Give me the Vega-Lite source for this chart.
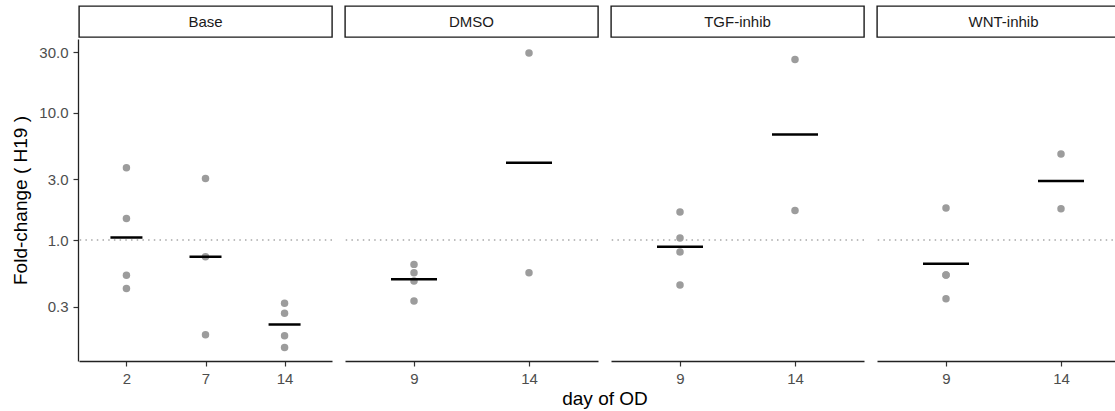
{
  "$schema": "https://vega.github.io/schema/vega-lite/v6.json",
  "padding": {"left": 11, "top": 5, "right": 0, "bottom": 0},
  "bounds": "flush",
  "spacing": 33,
  "background": "white",
  "datasets": {
    "strips": [
      {"panel": "Base"}, {"panel": "DMSO"}, {"panel": "TGF-inhib"}, {"panel": "WNT-inhib"}
    ],
    "obs": [
      {"panel": "Base", "day": 2, "kind": "pt", "value": 3.70},
      {"panel": "Base", "day": 2, "kind": "pt", "value": 1.48},
      {"panel": "Base", "day": 2, "kind": "pt", "value": 0.53},
      {"panel": "Base", "day": 2, "kind": "pt", "value": 0.417},
      {"panel": "Base", "day": 2, "kind": "mean", "value": 1.05},
      {"panel": "Base", "day": 7, "kind": "pt", "value": 3.05},
      {"panel": "Base", "day": 7, "kind": "pt", "value": 0.74},
      {"panel": "Base", "day": 7, "kind": "pt", "value": 0.18},
      {"panel": "Base", "day": 7, "kind": "mean", "value": 0.74},
      {"panel": "Base", "day": 14, "kind": "pt", "value": 0.318},
      {"panel": "Base", "day": 14, "kind": "pt", "value": 0.266},
      {"panel": "Base", "day": 14, "kind": "pt", "value": 0.177},
      {"panel": "Base", "day": 14, "kind": "pt", "value": 0.143},
      {"panel": "Base", "day": 14, "kind": "mean", "value": 0.217},
      {"panel": "DMSO", "day": 9, "kind": "pt", "value": 0.644},
      {"panel": "DMSO", "day": 9, "kind": "pt", "value": 0.554},
      {"panel": "DMSO", "day": 9, "kind": "pt", "value": 0.477},
      {"panel": "DMSO", "day": 9, "kind": "pt", "value": 0.332},
      {"panel": "DMSO", "day": 9, "kind": "mean", "value": 0.491},
      {"panel": "DMSO", "day": 14, "kind": "pt", "value": 29.6},
      {"panel": "DMSO", "day": 14, "kind": "pt", "value": 0.554},
      {"panel": "DMSO", "day": 14, "kind": "mean", "value": 4.05},
      {"panel": "TGF-inhib", "day": 9, "kind": "pt", "value": 1.66},
      {"panel": "TGF-inhib", "day": 9, "kind": "pt", "value": 1.04},
      {"panel": "TGF-inhib", "day": 9, "kind": "pt", "value": 0.805},
      {"panel": "TGF-inhib", "day": 9, "kind": "pt", "value": 0.443},
      {"panel": "TGF-inhib", "day": 9, "kind": "mean", "value": 0.885},
      {"panel": "TGF-inhib", "day": 14, "kind": "pt", "value": 26.3},
      {"panel": "TGF-inhib", "day": 14, "kind": "pt", "value": 1.71},
      {"panel": "TGF-inhib", "day": 14, "kind": "mean", "value": 6.77},
      {"panel": "WNT-inhib", "day": 9, "kind": "pt", "value": 1.79},
      {"panel": "WNT-inhib", "day": 9, "kind": "pt", "value": 0.531},
      {"panel": "WNT-inhib", "day": 9, "kind": "pt", "value": 0.531},
      {"panel": "WNT-inhib", "day": 9, "kind": "pt", "value": 0.346},
      {"panel": "WNT-inhib", "day": 9, "kind": "mean", "value": 0.652},
      {"panel": "WNT-inhib", "day": 14, "kind": "pt", "value": 4.76},
      {"panel": "WNT-inhib", "day": 14, "kind": "pt", "value": 1.76},
      {"panel": "WNT-inhib", "day": 14, "kind": "mean", "value": 2.91}
    ]
  },
  "vconcat": [
    {
      "data": {"name": "strips"},
      "facet": {"column": {"field": "panel", "type": "nominal", "header": null}},
      "spacing": 11,
      "spec": {
        "width": 253,
        "height": 31,
        "view": {"stroke": "#1a1a1a", "strokeWidth": 1.4, "fill": "white"},
        "mark": {"type": "text", "fontSize": 15, "color": "#1a1a1a", "font": "Liberation Sans"},
        "encoding": {"text": {"field": "panel", "type": "nominal"}}
      }
    },
    {
      "data": {"name": "obs"},
      "facet": {
        "column": {
          "field": "panel",
          "type": "nominal",
          "header": {
            "labels": false,
            "title": "day of OD",
            "titleOrient": "bottom",
            "titleFontSize": 19,
            "titleFontWeight": "normal",
            "titleColor": "black",
            "titleFont": "Liberation Sans",
            "titlePadding": -6
          }
        }
      },
      "spacing": 11,
      "resolve": {"scale": {"x": "independent"}},
      "spec": {
        "width": 253,
        "height": 322,
        "layer": [
          {
            "transform": [{"filter": "datum.kind === 'mean' && (datum.day === 2 || datum.day === 9)"}],
            "mark": {"type": "rule", "color": "#a8a8a8", "strokeWidth": 1.4, "strokeDash": [1.5, 4.2]},
            "encoding": {"y": {"datum": 1, "type": "quantitative"}}
          },
          {
            "transform": [{"filter": "datum.kind === 'pt'"}],
            "mark": {"type": "circle", "color": "#9c9c9c", "opacity": 1, "size": 56},
            "encoding": {
              "x": {"field": "day", "type": "ordinal", "scale": {"type": "point", "padding": 0.6}, "axis": {"title": null}},
              "y": {"field": "value", "type": "quantitative"}
            }
          },
          {
            "transform": [{"filter": "datum.kind === 'mean'"}],
            "mark": {"type": "tick", "orient": "horizontal", "color": "black", "thickness": 2.5, "opacity": 1},
            "encoding": {
              "x": {"field": "day", "type": "ordinal", "scale": {"type": "point", "padding": 0.6}, "axis": {"title": null}},
              "y": {
                "field": "value",
                "type": "quantitative",
                "scale": {"type": "log", "domain": [0.112, 38.1], "nice": false},
                "axis": {"title": "Fold-change ( H19 )", "values": [0.3, 1, 3, 10, 30], "format": ".1f"}
              },
              "size": {"condition": {"test": "datum.panel === 'Base'", "value": 32}, "value": 46}
            }
          }
        ]
      }
    }
  ],
  "config": {
    "font": "Liberation Sans",
    "view": {"stroke": null},
    "axis": {
      "grid": false,
      "domainColor": "#222222",
      "domainWidth": 1.3,
      "tickColor": "#333333",
      "tickWidth": 1.2,
      "tickSize": 5,
      "labelFont": "Liberation Sans",
      "labelFontSize": 15,
      "labelColor": "#4d4d4d",
      "labelPadding": 5,
      "titleFont": "Liberation Sans",
      "titleFontSize": 19,
      "titleFontWeight": "normal",
      "titleColor": "black",
      "titlePadding": 8
    },
    "axisX": {"labelAngle": 0}
  }
}
